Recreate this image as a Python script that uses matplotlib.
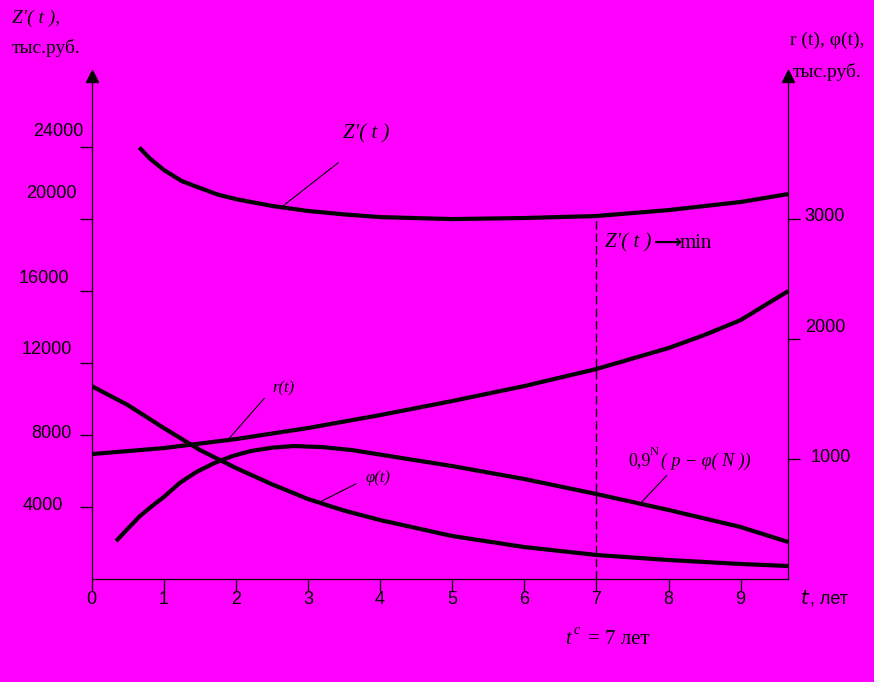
import numpy as np
import matplotlib.pyplot as plt

# --- данные ---
# Z'(t), тыс.руб. (левая ось)
t_z = [0.66, 0.8, 1.0, 1.25, 1.5, 1.75, 2.0, 2.5, 3.0, 3.5, 4.0, 5.0, 6.0, 7.0, 8.0, 9.0, 9.66]
z_vals = [23950, 23360, 22700, 22080, 21700, 21330, 21080, 20700, 20420, 20230, 20080, 19970,
          20030, 20140, 20470, 20920, 21360]

# r(t), тыс.руб. (правая ось)
t_r = [0, 1, 2, 3, 4, 5, 6, 7, 8, 8.5, 9, 9.66]
r_vals = [1037, 1087, 1162, 1254, 1362, 1479, 1604, 1746, 1921, 2030, 2154, 2396]

# phi(t), тыс.руб. (правая ось)
t_phi = [0, 0.5, 1, 1.5, 2, 2.5, 3, 3.5, 4, 5, 6, 7, 8, 9, 9.66]
phi_vals = [1604, 1446, 1254, 1071, 921, 785, 662, 566, 487, 354, 262, 196, 154, 121, 104]

# 0.9^N (p - phi(N)) (правая ось)
t_h = [0.34, 0.5, 0.67, 0.85, 1.0, 1.22, 1.45, 1.7, 1.95, 2.2, 2.5, 2.8, 3.2, 3.6, 4.3, 5, 6, 7, 8, 9, 9.66]
h_vals = [312, 415, 521, 610, 679, 796, 887, 962, 1020, 1062, 1090, 1104, 1095, 1071, 1004, 937,
          829, 704, 571, 429, 304]

left_ticks = [4000, 8000, 12000, 16000, 20000, 24000]
right_ticks = [1000, 2000, 3000]
x_ticks = list(range(10))
t_opt = 7

W, H = 874, 682
MAG = '#FF00FF'
fig = plt.figure(figsize=(W / 100, H / 100), dpi=100, facecolor=MAG)
ax = fig.add_axes([91.7 / W, 1 - 578.5 / H, (788.3 - 91.7) / W, (578.5 - 76) / H])
ax.set_facecolor(MAG)
ax2 = ax.twinx()

ax.set_xlim(0, 9.66)
ax.set_ylim(0, 27920)
ax2.set_ylim(0, 4188)

for a in (ax, ax2):
    a.spines['top'].set_visible(False)
    for s in a.spines.values():
        s.set_linewidth(0.9)
ax.spines['right'].set_visible(False)
ax2.spines['left'].set_visible(False)
ax2.spines['bottom'].set_visible(False)

ax.set_xticks(x_ticks)
ax.set_xticklabels([])
ax.set_yticks(left_ticks)
ax.set_yticklabels([])
ax2.set_yticks(right_ticks)
ax2.set_yticklabels([])
ax.tick_params(axis='both', direction='out', length=8.6, width=0.9)
ax2.tick_params(axis='y', direction='out', length=8.6, width=0.9)

# стрелки на концах вертикальных осей
ax.plot([0], [27920], marker='^', color='black', markersize=8, clip_on=False)
ax.plot([9.66], [27920], marker='^', color='black', markersize=8, clip_on=False)

# кривые
line_kw = dict(color='black', lw=3, solid_capstyle='butt', solid_joinstyle='round')
ax.plot(t_z, z_vals, **line_kw)
ax2.plot(t_r, r_vals, **line_kw)
ax2.plot(t_phi, phi_vals, **line_kw)
ax2.plot(t_h, h_vals, **line_kw)

# вертикальная пунктирная линия t = 7
z_at_opt = z_vals[t_z.index(t_opt)]
ax.plot([t_opt, t_opt], [0, z_at_opt], color='black', lw=1, ls=(0, (6, 3)))


def px(x, y, s, **kw):
    fig.text(x / W, 1 - y / H, s, **kw)


sans = dict(family='Liberation Sans', fontsize=13, color='black')
serif = dict(family='Liberation Serif', fontsize=14, color='black')

# подписи делений левой оси (ступенчатые, как на оригинале)
left_pos = [(63, 505), (72, 433.5), (72, 350), (69, 278.5), (77, 193), (83, 131.5)]
for v, (x, y) in zip(left_ticks, left_pos):
    px(x, y, str(v), ha='right', va='center', **sans)

right_pos = [(851, 457), (845, 327), (845, 217)]
for v, (x, y) in zip(right_ticks, right_pos):
    px(x, y, str(v), ha='right', va='center', **sans)

for v in x_ticks:
    px(91.7 + v * 72.1, 599, str(v), ha='center', va='center', **sans)

px(800, 599, r'$t$', ha='left', va='center', family='Liberation Sans', fontsize=14)
px(810, 599, ', лет', ha='left', va='center', **sans)

# подписи осей
px(12, 18, "Z′( t ),", ha='left', va='center', style='italic', **serif)
px(12, 48, 'тыс.руб.', ha='left', va='center', **serif)
px(790, 40, 'r (t), φ(t),', ha='left', va='center', **serif)
px(793, 72, 'тыс.руб.', ha='left', va='center', **serif)

# подписи кривых
px(343, 134, "Z′( t )", ha='left', va='center', style='italic', family='Liberation Serif', fontsize=15)
ax.annotate('', xy=(2.62, 20600), xytext=(3.45, 23200),
            arrowprops=dict(arrowstyle='-', lw=0.8, color='black'))

px(605, 243, "Z′( t )", ha='left', va='center', style='italic', family='Liberation Serif', fontsize=15)
px(654, 242, "⟶", ha='left', va='center', family='DejaVu Sans', fontsize=14, fontweight='bold')
px(680, 243, "min", ha='left', va='center', family='Liberation Serif', fontsize=15)
px(565, 640, "t", ha='left', va='center', style='italic', family='Liberation Serif', fontsize=15)
px(574, 630, "c", ha='left', va='center', style='italic', family='Liberation Serif', fontsize=10)
px(588, 640, "= 7 лет", ha='left', va='center', family='Liberation Serif', fontsize=15)

px(272, 388, "r(t)", ha='left', va='center', style='italic', family='Liberation Serif', fontsize=12)
ax2.annotate('', xy=(1.88, 1150), xytext=(2.42, 1520),
             arrowprops=dict(arrowstyle='-', lw=0.8, color='black'))

px(366, 478, "φ(t)", ha='left', va='center', style='italic', family='Liberation Serif', fontsize=12)
ax2.annotate('', xy=(3.14, 630), xytext=(3.7, 800),
             arrowprops=dict(arrowstyle='-', lw=0.8, color='black'))

px(628, 461, "0,9", ha='left', va='center', family='Liberation Serif', fontsize=13)
px(650, 452, "N", ha='left', va='center', family='Liberation Serif', fontsize=9)
px(661, 461, "( p − φ( N ))", ha='left', va='center', style='italic', family='Liberation Serif', fontsize=13)
ax2.annotate('', xy=(7.6, 620), xytext=(8.0, 875),
             arrowprops=dict(arrowstyle='-', lw=0.8, color='black'))

fig.savefig('out.png', dpi=100, facecolor=MAG)
